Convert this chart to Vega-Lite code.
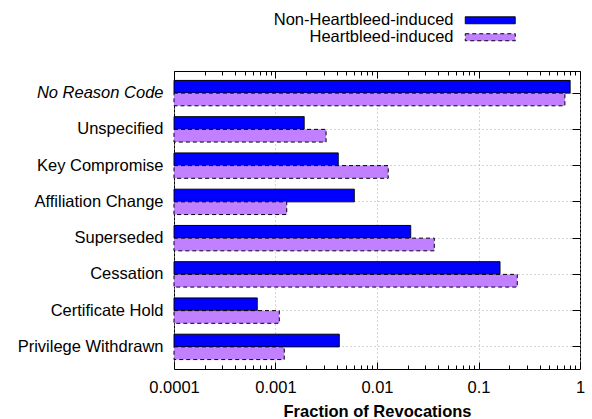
{
  "$schema": "https://vega.github.io/schema/vega-lite/v6.json",
  "width": 406,
  "height": 298,
  "autosize": "none",
  "padding": {"left": 174, "top": 71, "right": 12, "bottom": 50},
  "config": {
    "view": {"stroke": "black", "strokeWidth": 1},
    "font": "Liberation Sans",
    "axis": {"labelFont": "Liberation Sans", "titleFont": "Liberation Sans"},
    "legend": {"labelFont": "Liberation Sans"}
  },
  "data": {
    "values": [
      {"reason": "No Reason Code", "series": "Non-Heartbleed-induced", "value": 0.80},
      {"reason": "No Reason Code", "series": "Heartbleed-induced", "value": 0.71},
      {"reason": "Unspecified", "series": "Non-Heartbleed-induced", "value": 0.00192},
      {"reason": "Unspecified", "series": "Heartbleed-induced", "value": 0.00315},
      {"reason": "Key Compromise", "series": "Non-Heartbleed-induced", "value": 0.00416},
      {"reason": "Key Compromise", "series": "Heartbleed-induced", "value": 0.0129},
      {"reason": "Affiliation Change", "series": "Non-Heartbleed-induced", "value": 0.00598},
      {"reason": "Affiliation Change", "series": "Heartbleed-induced", "value": 0.00129},
      {"reason": "Superseded", "series": "Non-Heartbleed-induced", "value": 0.0215},
      {"reason": "Superseded", "series": "Heartbleed-induced", "value": 0.0367},
      {"reason": "Cessation", "series": "Non-Heartbleed-induced", "value": 0.163},
      {"reason": "Cessation", "series": "Heartbleed-induced", "value": 0.241},
      {"reason": "Certificate Hold", "series": "Non-Heartbleed-induced", "value": 0.000662},
      {"reason": "Certificate Hold", "series": "Heartbleed-induced", "value": 0.00109},
      {"reason": "Privilege Withdrawn", "series": "Non-Heartbleed-induced", "value": 0.00425},
      {"reason": "Privilege Withdrawn", "series": "Heartbleed-induced", "value": 0.00122}
    ]
  },
  "layer": [
    {
      "mark": {"type": "bar", "stroke": "black", "strokeWidth": 1},
      "encoding": {
        "y": {
          "field": "reason", "type": "nominal",
          "sort": ["No Reason Code", "Unspecified", "Key Compromise", "Affiliation Change", "Superseded", "Cessation", "Certificate Hold", "Privilege Withdrawn"],
          "scale": {"paddingInner": 0.3, "paddingOuter": 0.26},
          "axis": {
            "orient": "left", "title": null, "labelFontSize": 16.5, "labelColor": "black",
            "labelPadding": 11, "ticks": false, "domain": false, "grid": true,
            "gridDash": [1, 3], "gridColor": "#aaaaaa", "bandPosition": 0.5,
            "labelFontStyle": {"condition": {"test": "datum.value === 'No Reason Code'", "value": "italic"}, "value": "normal"}
          }
        },
        "yOffset": {
          "field": "series", "type": "nominal",
          "sort": ["Non-Heartbleed-induced", "Heartbleed-induced"],
          "scale": {"paddingInner": 0, "paddingOuter": 0}
        },
        "x": {
          "field": "value", "type": "quantitative",
          "scale": {"type": "log", "domain": [0.0001, 1], "nice": false},
          "axis": {
            "orient": "bottom", "values": [0.0001, 0.001, 0.01, 0.1, 1], "format": "~g",
            "labelFlush": false, "labelFontSize": 16.5, "labelColor": "black",
            "tickSize": -7, "tickColor": "black", "labelPadding": 17, "domain": false,
            "grid": true, "gridDash": [1, 3], "gridColor": "#aaaaaa",
            "title": "Fraction of Revocations", "titleFontSize": 16.5, "titleFontWeight": "bold",
            "titleColor": "black", "titlePadding": 8
          }
        },
        "x2": {"datum": 0.0001},
        "fill": {
          "field": "series", "type": "nominal",
          "scale": {"domain": ["Non-Heartbleed-induced", "Heartbleed-induced"], "range": ["#0000ff", "#c080ff"]},
          "legend": {
            "orient": "none", "legendX": 308, "legendY": -59, "title": null,
            "symbolType": "M-5,-0.7H5V0.7H-5Z", "symbolSize": 100,
            "symbolStrokeColor": "black", "symbolStrokeWidth": 1,
            "labelFontSize": 16.5, "labelColor": "black", "labelAlign": "right",
            "labelOffset": -45, "rowPadding": -6, "padding": 0, "labelLimit": 400,
            "encode": {"symbols": {"update": {"stroke": {"value": "black"}, "strokeWidth": {"value": 1}, "strokeDash": {"scale": "strokeDash", "field": "value"}}}}
          }
        },
        "strokeDash": {
          "field": "series", "type": "nominal",
          "scale": {"domain": ["Non-Heartbleed-induced", "Heartbleed-induced"], "range": [[1, 0], [4, 3]]},
          "legend": null
        }
      }
    },
    {
      "mark": {"type": "point", "opacity": 0},
      "encoding": {
        "y": {
          "field": "reason", "type": "nominal",
          "sort": ["No Reason Code", "Unspecified", "Key Compromise", "Affiliation Change", "Superseded", "Cessation", "Certificate Hold", "Privilege Withdrawn"],
          "axis": {"orient": "right", "title": null, "labels": false, "domain": false, "grid": false, "ticks": true, "tickSize": -8, "tickColor": "black", "bandPosition": 0.5}
        },
        "x": {
          "field": "value", "type": "quantitative",
          "axis": {
            "orient": "bottom",
            "values": [0.0002, 0.0003, 0.0004, 0.0005, 0.0006, 0.0007, 0.0008, 0.0009, 0.002, 0.003, 0.004, 0.005, 0.006, 0.007, 0.008, 0.009, 0.02, 0.03, 0.04, 0.05, 0.06, 0.07, 0.08, 0.09, 0.2, 0.3, 0.4, 0.5, 0.6, 0.7, 0.8, 0.9],
            "labels": false, "grid": false, "domain": false, "tickSize": -4, "tickColor": "black", "title": null
          }
        }
      }
    },
    {
      "mark": {"type": "point", "opacity": 0},
      "encoding": {
        "y": {
          "field": "reason", "type": "nominal",
          "sort": ["No Reason Code", "Unspecified", "Key Compromise", "Affiliation Change", "Superseded", "Cessation", "Certificate Hold", "Privilege Withdrawn"],
          "axis": null
        },
        "x": {
          "field": "value", "type": "quantitative",
          "axis": {"orient": "top", "values": [0.0001, 0.001, 0.01, 0.1, 1], "labels": false, "grid": false, "domain": false, "tickSize": -7, "tickColor": "black", "title": null}
        }
      }
    },
    {
      "mark": {"type": "point", "opacity": 0},
      "encoding": {
        "y": {
          "field": "reason", "type": "nominal",
          "sort": ["No Reason Code", "Unspecified", "Key Compromise", "Affiliation Change", "Superseded", "Cessation", "Certificate Hold", "Privilege Withdrawn"],
          "axis": null
        },
        "x": {
          "field": "value", "type": "quantitative",
          "axis": {
            "orient": "top",
            "values": [0.0002, 0.0003, 0.0004, 0.0005, 0.0006, 0.0007, 0.0008, 0.0009, 0.002, 0.003, 0.004, 0.005, 0.006, 0.007, 0.008, 0.009, 0.02, 0.03, 0.04, 0.05, 0.06, 0.07, 0.08, 0.09, 0.2, 0.3, 0.4, 0.5, 0.6, 0.7, 0.8, 0.9],
            "labels": false, "grid": false, "domain": false, "tickSize": -4, "tickColor": "black", "title": null
          }
        }
      }
    }
  ],
  "resolve": {"axis": {"x": "independent", "y": "independent"}}
}
